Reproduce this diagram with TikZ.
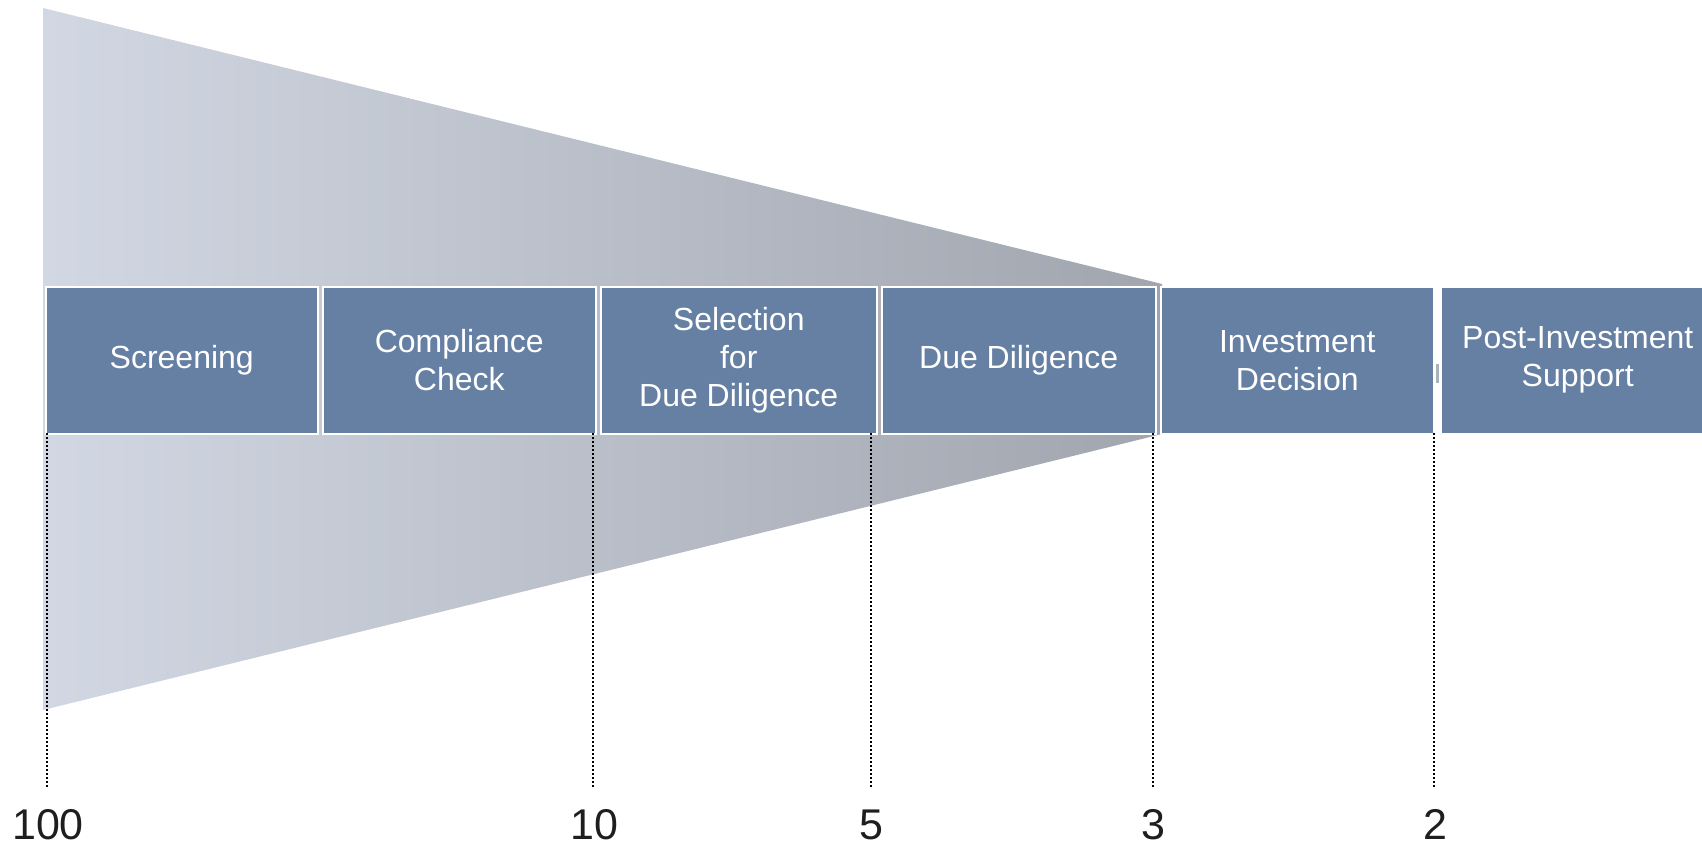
\documentclass[tikz,border=0pt]{standalone}
\usepackage{fontspec}
\setmainfont{Liberation Sans}
\definecolor{boxblue}{RGB}{102,128,164}
\definecolor{funl}{RGB}{210,216,227}
\definecolor{funr}{RGB}{160,165,174}
\definecolor{markgray}{RGB}{172,178,188}
\definecolor{numcol}{RGB}{30,30,30}
\tikzset{
  stage/.style={anchor=north west, fill=boxblue, draw=white, line width=1.5pt,
    minimum height=147pt, inner sep=0pt, align=center, text=white,
    font=\fontsize{32}{38}\selectfont},
  numlabel/.style={anchor=base, text=numcol, font=\fontsize{43}{43}\selectfont, inner sep=0pt},
  dotline/.style={draw=black, line width=2pt, dash pattern=on 2pt off 2pt}
}
\begin{document}
\begin{tikzpicture}[x=1pt,y=-1pt]
\useasboundingbox (0,0) rectangle (1702,848);
\clip (0,0) rectangle (1702,848);
% funnel
\shade[left color=funl, right color=funr] (43,8) -- (1162,284) -- (1162,434) -- (43,710) -- cycle;
% stages
\node[stage, minimum width=272pt] (s1) at (45,286) {\raisebox{-2pt}{Screening}};
\node[stage, minimum width=273pt] (s2) at (322,286) {\raisebox{-2pt}{Compliance}\\\raisebox{-2pt}{Check}};
\node[stage, minimum width=276pt] (s3) at (600,286) {\raisebox{-2pt}{Selection}\\\raisebox{-2pt}{for}\\\raisebox{-2pt}{Due Diligence}};
\node[stage, minimum width=274pt] (s4) at (881,286) {\raisebox{-2pt}{Due Diligence}};
\node[stage, minimum width=273pt] (s5) at (1160,286) {\raisebox{-2pt}{Investment}\\\raisebox{-2pt}{Decision}};
\node[stage, minimum width=274pt] (s6) at (1440,286) {\raisebox{-2pt}{Post-Investment}\\\raisebox{-2pt}{Support}};
\fill[markgray] (1435.5,364) rectangle (1438.5,383);
% numbers
\node[numlabel] (n100) at (48,839) {100};
\node[numlabel] (n10) at (594,839) {10};
\node[numlabel] (n5) at (871,839) {5};
\node[numlabel] (n3) at (1153,839) {3};
\node[numlabel] (n2) at (1435,839) {2};
% dotted connectors
\coordinate (t1) at (47,433);   \coordinate (b1) at (47,787);
\coordinate (t2) at (593,433);  \coordinate (b2) at (593,787);
\coordinate (t3) at (871,433);  \coordinate (b3) at (871,787);
\coordinate (t4) at (1153,433); \coordinate (b4) at (1153,787);
\coordinate (t5) at (1434,433); \coordinate (b5) at (1434,787);
\foreach \i in {1,...,5} { \draw[dotline] (t\i) -- (b\i); }
\end{tikzpicture}
\end{document}
